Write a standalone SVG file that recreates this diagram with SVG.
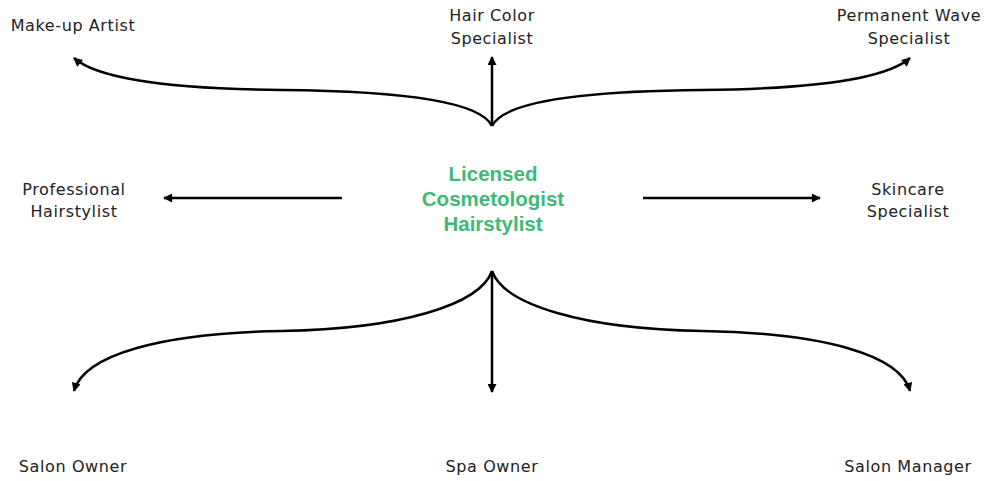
<svg xmlns="http://www.w3.org/2000/svg" width="992" height="481" viewBox="0 0 992 481">
<defs>
<marker id="ah" viewBox="0 0 10 10" refX="9" refY="5" markerWidth="10" markerHeight="9" markerUnits="userSpaceOnUse" orient="auto">
<path d="M0,0 L10,5 L0,10 z" fill="#000"/>
</marker>
<style>
.lbl{font-family:"DejaVu Sans","Liberation Sans",sans-serif;font-size:16px;letter-spacing:0.6px;fill:#222;text-anchor:middle}
.ctr{font-family:"Liberation Sans","DejaVu Sans",sans-serif;font-size:20.5px;font-weight:bold;fill:#3dba78;text-anchor:middle}
.c{fill:none;stroke:#000;stroke-width:2.5;marker-end:url(#ah)}
</style>
</defs>
<rect width="992" height="481" fill="#fff"/>
<g id="connectors">
<path class="c" d="M492,126 L492,57"/>
<path class="c" d="M492,126 C480,101 400,91 282,90 C180,89 100,81 74,58"/>
<path class="c" d="M492,126 C504,101 584,91 702,90 C804,89 884,81 910,58"/>
<path class="c" d="M342,198 L164,198"/>
<path class="c" d="M643,198 L820,198"/>
<path class="c" d="M492,271 L492,392"/>
<path class="c" d="M492,271 C480,305 400,329 282,331 C160,333 84,355 74,391"/>
<path class="c" d="M492,271 C504,305 584,329 702,331 C824,333 900,355 910,391"/>
</g>
<g id="center"><text class="ctr" x="493" y="181">Licensed</text><text class="ctr" x="493" y="206">Cosmetologist</text><text class="ctr" x="493" y="231">Hairstylist</text></g>
<g id="makeup"><text class="lbl" x="73" y="31">Make-up Artist</text></g>
<g id="haircolor"><text class="lbl" x="492" y="21">Hair Color</text><text class="lbl" x="492" y="44">Specialist</text></g>
<g id="perm"><text class="lbl" x="909" y="21">Permanent Wave</text><text class="lbl" x="909" y="44">Specialist</text></g>
<g id="prof"><text class="lbl" x="74" y="195">Professional</text><text class="lbl" x="74" y="217">Hairstylist</text></g>
<g id="skin"><text class="lbl" x="908" y="195">Skincare</text><text class="lbl" x="908" y="217">Specialist</text></g>
<g id="salonowner"><text class="lbl" x="73" y="472">Salon Owner</text></g>
<g id="spaowner"><text class="lbl" x="492" y="472">Spa Owner</text></g>
<g id="salonmgr"><text class="lbl" x="908" y="472">Salon Manager</text></g>
</svg>
